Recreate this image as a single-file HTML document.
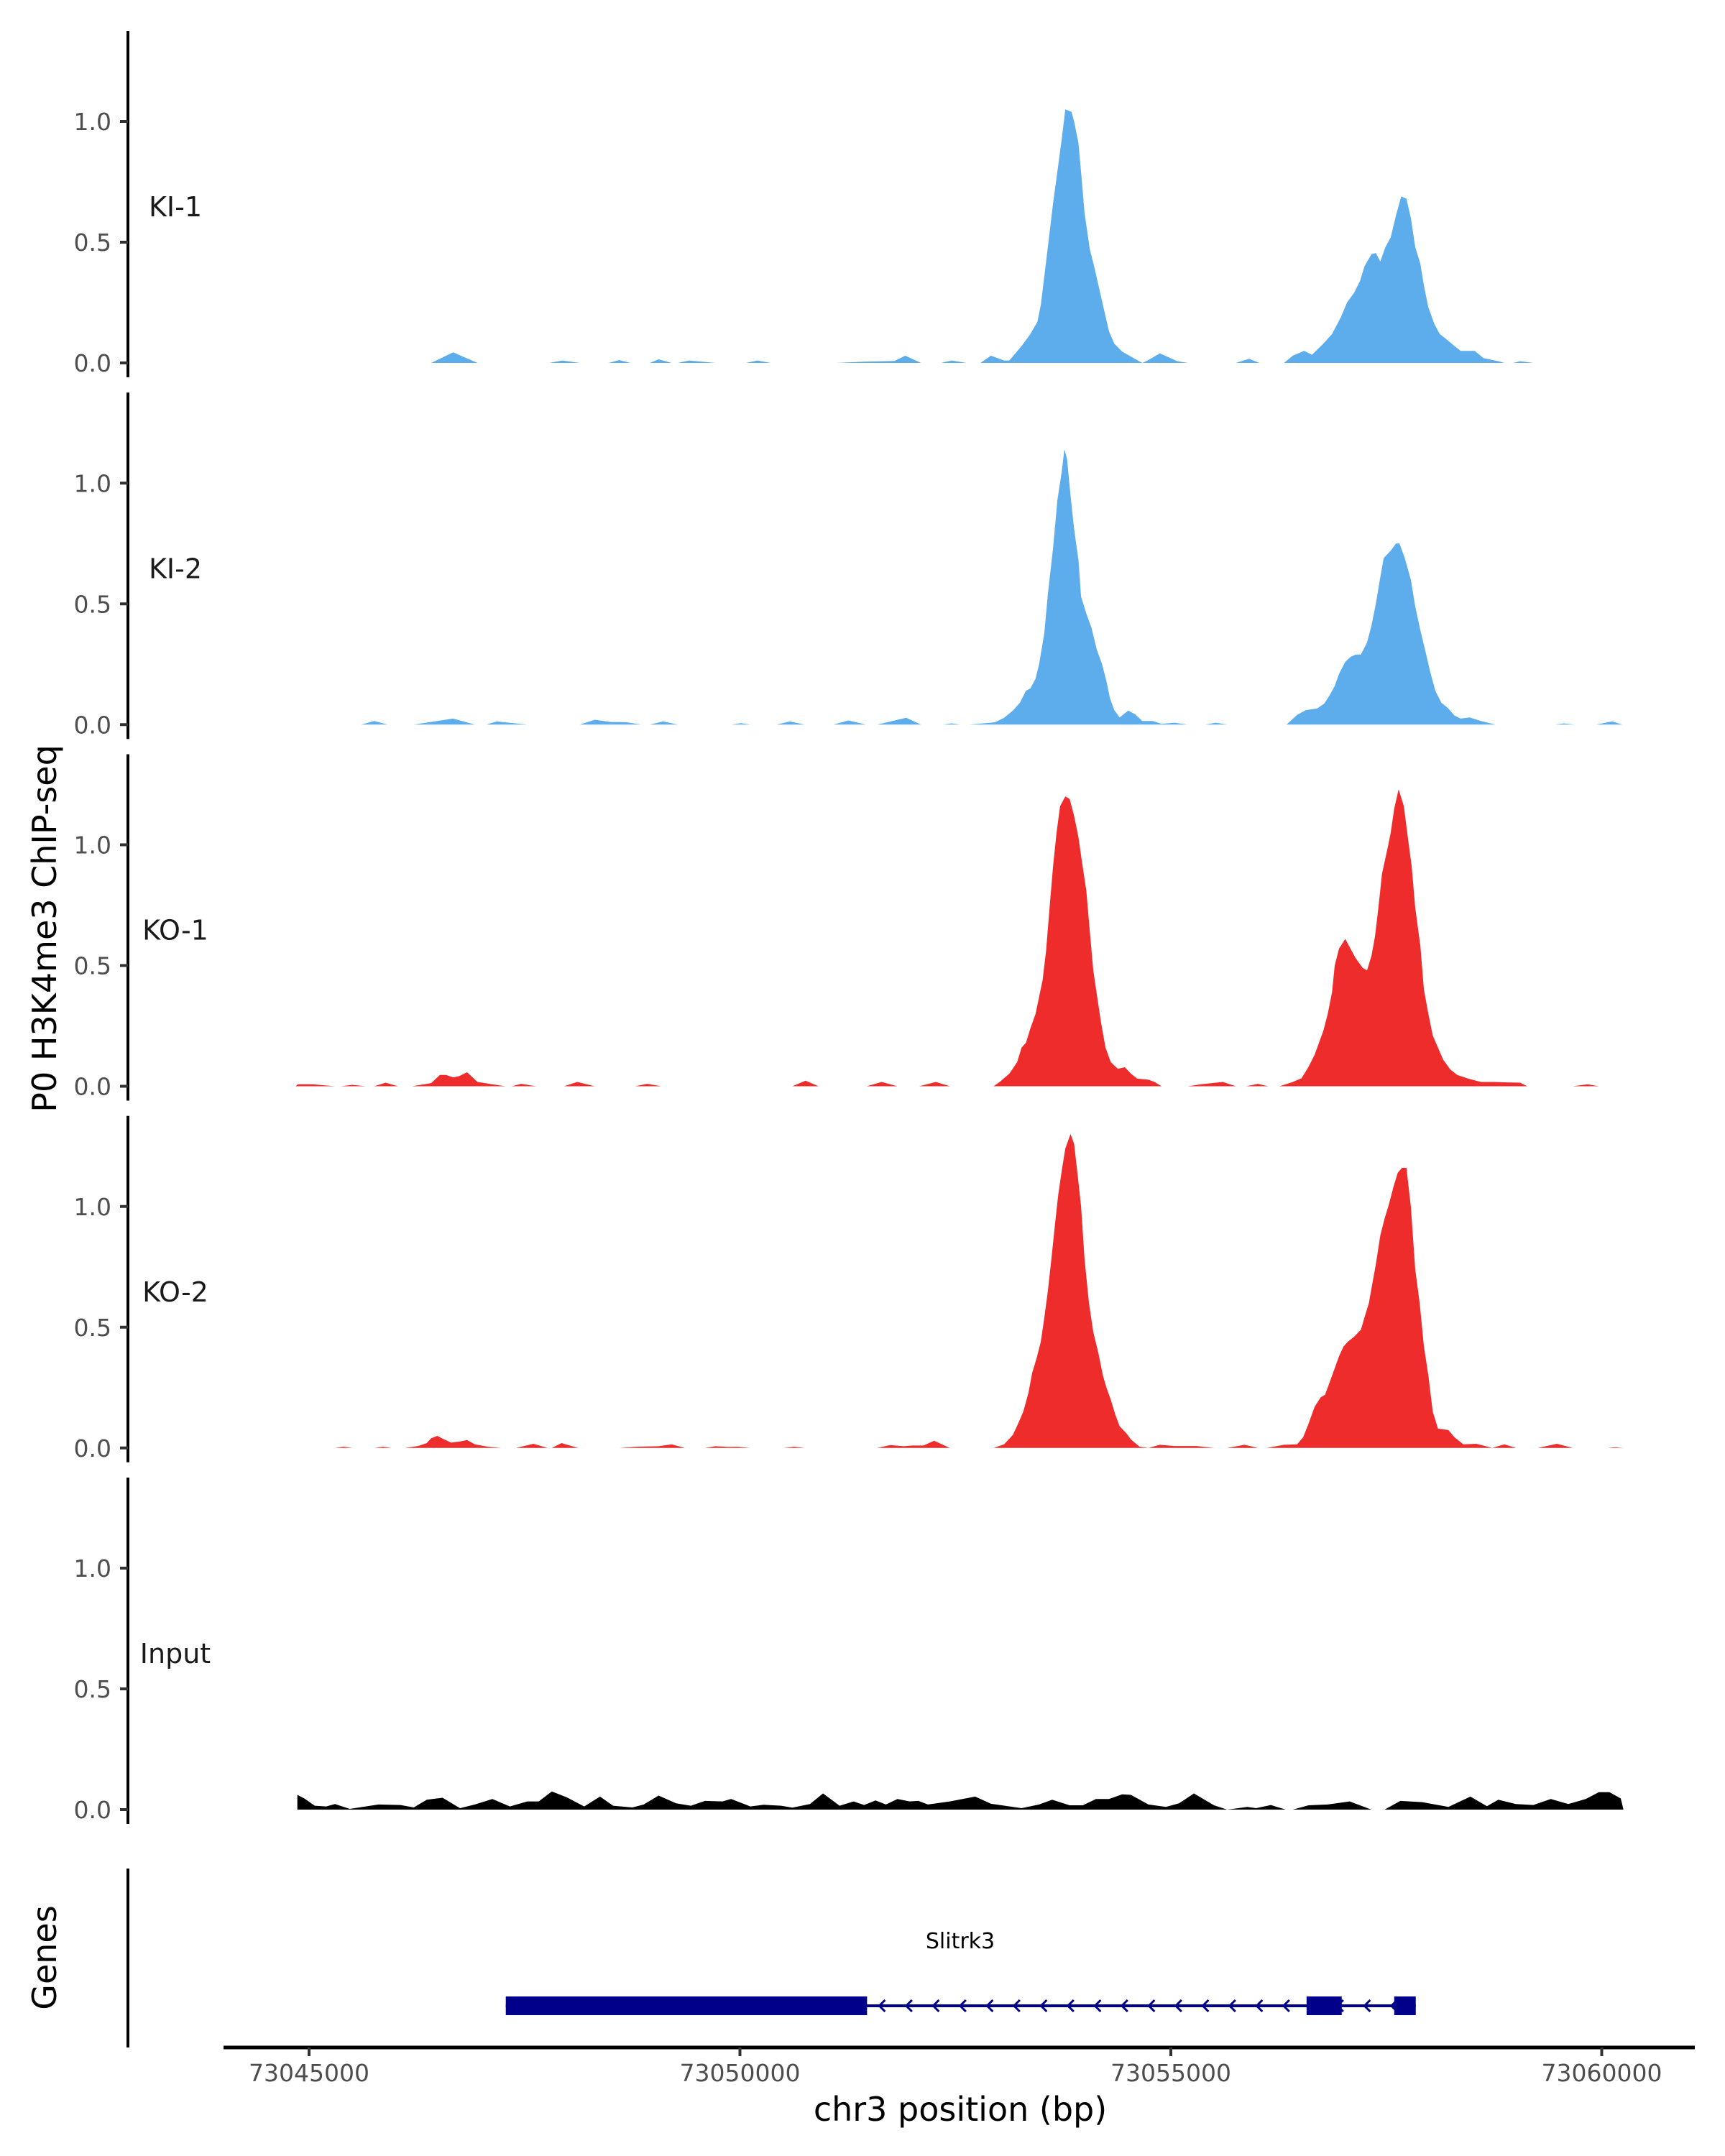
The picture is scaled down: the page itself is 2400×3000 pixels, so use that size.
<!DOCTYPE html>
<html><head><meta charset="utf-8"><style>
html,body{margin:0;padding:0;background:#fff}
svg{display:block}
text{font-family:"DejaVu Sans","Liberation Sans",sans-serif}
</style></head><body>
<svg id="chart" width="2400" height="3000" viewBox="0 0 2400 3000" xmlns="http://www.w3.org/2000/svg"></svg>
<script>
const chromStart = 73040000;
const trackNames = ["KI-1","KI-2","KO-1","KO-2","Input"];
const trackColors = ["#5DADEC","#5DADEC","#EE2C2C","#EE2C2C","#000000"];
const yTicks = [0.0, 0.5, 1.0];
const yTickLabels = ["0.0","0.5","1.0"];
const xTicks = [73045000, 73050000, 73055000, 73060000];
const xTickLabels = ["73045000","73050000","73055000","73060000"];

const ki1Pos = [6417,6671,6955,7787,7939,8142,8477,8599,8731,8954,9056,9208,9279,9411,9716,10071,10203,10355,11116,11441,11796,11918,12101,12334,12456,12629,12791,12913,13065,13126,13268,13370,13451,13491,13532,13573,13633,13694,13735,13776,13847,13877,13928,13958,13999,14060,14110,14161,14212,14283,14344,14435,14567,14669,14740,14872,15075,15197,15755,15907,16029,16313,16415,16547,16638,16770,16871,16973,17044,17125,17196,17247,17328,17379,17430,17490,17551,17612,17673,17734,17785,17836,17896,17937,17988,18059,18120,18191,18292,18363,18526,18627,18800,18871,18972,19054,19206];
const ki1Val = [0,0.044,0,0,0.01,0,0,0.012,0,0,0.015,0,0,0.01,0,0,0.01,0,0,0.005,0.008,0.03,0,0,0.01,0,0,0.03,0.01,0.01,0.07,0.12,0.17,0.24,0.36,0.48,0.66,0.82,0.93,1.05,1.04,1.0,0.91,0.79,0.62,0.47,0.40,0.32,0.24,0.13,0.08,0.047,0.02,0,0.012,0.04,0.007,0,0,0.017,0,0,0.03,0.05,0.034,0.08,0.12,0.19,0.25,0.29,0.34,0.40,0.45,0.455,0.42,0.48,0.52,0.61,0.69,0.68,0.60,0.48,0.41,0.32,0.23,0.16,0.12,0.10,0.07,0.05,0.05,0.02,0.007,0,0,0.007,0];

const ki2Pos = [5605,5757,5909,6214,6671,6924,7056,7178,7533,8142,8315,8498,8680,8853,8954,9107,9279,9898,10010,10122,10426,10578,10751,11086,11258,11461,11593,11928,12101,12355,12456,12558,12659,12913,12964,13065,13167,13248,13319,13370,13430,13471,13532,13573,13633,13684,13735,13765,13796,13836,13877,13928,13958,14019,14080,14141,14202,14253,14293,14344,14405,14506,14588,14669,14791,14892,15044,15197,15400,15521,15653,16343,16465,16567,16699,16780,16841,16902,16952,17024,17084,17145,17206,17277,17328,17379,17430,17470,17551,17612,17653,17714,17785,17836,17896,17957,18008,18069,18140,18211,18292,18363,18465,18597,18769,19460,19561,19683,19936,20119,20241];
const ki2Val = [0,0.015,0,0,0.025,0,0,0.013,0,0,0.02,0.011,0.01,0,0,0.013,0,0,0.006,0,0,0.013,0,0,0.017,0,0,0.028,0,0,0.005,0,0,0.008,0.01,0.028,0.058,0.09,0.14,0.15,0.19,0.25,0.38,0.54,0.73,0.93,1.05,1.14,1.10,0.95,0.81,0.68,0.53,0.46,0.40,0.31,0.25,0.18,0.11,0.06,0.03,0.058,0.042,0.015,0.015,0.003,0.008,0,0,0.008,0,0,0.04,0.06,0.067,0.087,0.12,0.16,0.21,0.26,0.28,0.29,0.29,0.34,0.41,0.50,0.61,0.69,0.72,0.75,0.75,0.69,0.60,0.49,0.39,0.30,0.22,0.14,0.09,0.07,0.037,0.025,0.03,0.015,0,0,0.005,0,0,0.013,0];

const ko1Pos = [4844,4870,5047,5300,5371,5503,5656,5757,5889,6031,6193,6417,6518,6589,6671,6742,6833,6955,7127,7280,7351,7462,7635,7960,8112,8315,8782,8924,9086,10609,10761,10913,11471,11644,11827,12080,12273,12436,12943,13014,13126,13217,13268,13319,13370,13430,13471,13512,13552,13593,13633,13674,13715,13776,13826,13877,13928,13968,14019,14060,14100,14141,14192,14242,14303,14385,14466,14537,14608,14740,14811,14892,15197,15349,15603,15755,15876,16009,16130,16262,16415,16516,16597,16668,16719,16770,16821,16871,16902,16952,17024,17084,17145,17227,17277,17328,17369,17409,17450,17511,17551,17592,17643,17704,17754,17795,17836,17896,17937,17988,18039,18100,18160,18242,18323,18445,18597,18749,18901,19054,19135,19663,19835,19967];
const ko1Val = [0,0.008,0.008,0,0,0.006,0,0,0.015,0,0,0.013,0.047,0.047,0.037,0.042,0.058,0.018,0.008,0,0,0.01,0,0,0.018,0,0,0.01,0,0,0.023,0,0,0.018,0,0,0.018,0,0,0.018,0.052,0.10,0.16,0.18,0.24,0.30,0.37,0.44,0.56,0.74,0.91,1.05,1.16,1.20,1.19,1.12,1.03,0.93,0.81,0.64,0.48,0.38,0.26,0.16,0.10,0.072,0.079,0.052,0.032,0.027,0.018,0,0,0.008,0.018,0,0,0.01,0,0,0.018,0.033,0.08,0.13,0.18,0.23,0.30,0.39,0.50,0.57,0.61,0.57,0.53,0.49,0.48,0.54,0.62,0.74,0.88,0.98,1.05,1.15,1.23,1.16,1.02,0.91,0.74,0.58,0.40,0.30,0.21,0.16,0.11,0.07,0.047,0.032,0.018,0.018,0.016,0.015,0,0,0.008,0];

const ko2Pos = [5300,5402,5503,5757,5859,5960,6112,6265,6366,6417,6488,6569,6650,6752,6833,6924,7077,7229,7401,7604,7767,7817,7929,8122,8599,8802,9056,9208,9360,9594,9716,9868,9969,10122,10507,10629,10751,11593,11746,11898,12000,12131,12253,12436,12943,13065,13167,13227,13288,13349,13390,13441,13491,13532,13573,13613,13654,13694,13735,13776,13836,13877,13928,13958,13999,14050,14100,14161,14212,14253,14303,14354,14405,14486,14537,14638,14740,14872,15044,15298,15501,15653,15856,16009,16110,16313,16465,16536,16597,16668,16739,16790,16851,16902,16952,17003,17054,17125,17206,17247,17298,17338,17379,17430,17480,17531,17582,17633,17683,17734,17785,17836,17887,17937,17988,18039,18100,18221,18292,18394,18546,18729,18871,19003,19257,19480,19663,20069,20150,20252];
const ko2Val = [0,0.005,0,0,0.005,0,0,0.008,0.02,0.04,0.05,0.035,0.022,0.027,0.033,0.015,0.005,0,0,0.017,0,0,0.02,0,0,0.005,0.007,0.015,0,0,0.007,0.004,0.005,0,0,0.005,0,0,0.012,0.007,0.01,0.01,0.03,0,0,0.015,0.054,0.10,0.15,0.23,0.31,0.37,0.44,0.54,0.65,0.78,0.92,1.05,1.15,1.24,1.30,1.26,1.10,1.0,0.78,0.60,0.48,0.39,0.30,0.25,0.20,0.14,0.09,0.06,0.035,0.005,0,0.013,0.008,0.008,0,0,0.013,0,0,0.013,0.015,0.045,0.10,0.17,0.21,0.22,0.28,0.33,0.38,0.42,0.44,0.46,0.49,0.54,0.60,0.68,0.76,0.88,0.95,1.01,1.08,1.14,1.16,1.16,1.0,0.74,0.60,0.42,0.30,0.15,0.08,0.074,0.044,0.015,0.017,0,0.015,0,0,0.017,0,0,0.003,0];

const inputPos = [4864,4864,4945,5067,5199,5300,5473,5656,5808,6062,6214,6366,6549,6752,6924,7127,7330,7533,7665,7817,7990,8193,8376,8528,8751,8883,9056,9259,9431,9594,9797,9898,10122,10274,10477,10609,10812,10964,11157,11319,11441,11573,11695,11827,11969,12070,12182,12436,12730,12913,13268,13471,13623,13826,13979,14131,14283,14435,14537,14740,14943,15095,15268,15501,15653,15704,15887,15988,16161,16333,16415,16598,16821,17075,17328,17480,17663,17917,18221,18475,18668,18800,19003,19206,19409,19612,19815,19967,20089,20221,20252];
const inputVal = [0,0.061,0.046,0.016,0.013,0.023,0.003,0.013,0.021,0.019,0.009,0.041,0.049,0.006,0.021,0.044,0.013,0.034,0.034,0.075,0.051,0.013,0.054,0.016,0.009,0.021,0.058,0.026,0.016,0.036,0.034,0.044,0.013,0.02,0.016,0.008,0.023,0.067,0.016,0.034,0.019,0.038,0.021,0.044,0.034,0.036,0.021,0.034,0.054,0.024,0.006,0.021,0.041,0.018,0.018,0.044,0.044,0.063,0.061,0.021,0.011,0.026,0.067,0.018,0,0.002,0.011,0.006,0.019,0,0,0.018,0.021,0.034,0,0,0.036,0.031,0.011,0.054,0.014,0.041,0.023,0.019,0.044,0.023,0.044,0.072,0.072,0.046,0];

const trackPos = [ki1Pos, ki2Pos, ko1Pos, ko2Pos, inputPos];
const trackVal = [ki1Val, ki2Val, ko1Val, ko2Val, inputVal];

const geneName = "Slitrk3";
const geneStart = 73047283;
const geneEnd = 73057842;
const exonStarts = [73047283, 73056575, 73057592];
const exonEnds = [73051475, 73056983, 73057842];

const NS = "http://www.w3.org/2000/svg";
const svg = document.getElementById("chart");
function mk(tag, attrs, parent){const e=document.createElementNS(NS,tag);for(const k in attrs)e.setAttribute(k,attrs[k]);(parent||svg).appendChild(e);return e;}
function xScale(bp){return 430 + (bp - 73045000) * 599.5 / 5000;}
const unitPx = 336;
function zeroY(i){return 505 + i * 503.25;}
function yScale(i, v){return zeroY(i) - v * unitPx;}

for (let i = 0; i < trackNames.length; i++) {
  const g = mk("g", {});
  
  
  const z = zeroY(i);
  const ax = mk("line", {x1:178, x2:178, y1:z-462, y2:z+20, stroke:"#000", "stroke-width":4}, g);
  
  
  for (let t = 0; t < yTicks.length; t++) {
    const ty = yScale(i, yTicks[t]);
    const tk = mk("line", {x1:167, x2:178, y1:ty, y2:ty, stroke:"#333", "stroke-width":4}, g);
    
    
    const tl = mk("text", {x:155, y:ty+12, "text-anchor":"end", "font-size":33, fill:"#4d4d4d"}, g);
    tl.textContent = yTickLabels[t];
    
    
  }
  const lab = mk("text", {x:244, y:z-204, "text-anchor":"middle", "font-size":38, fill:"#1a1a1a"}, g);
  lab.textContent = trackNames[i];
  
  
  const pos = trackPos[i], val = trackVal[i];
  let d = "M" + xScale(chromStart + pos[0]).toFixed(1) + "," + z;
  for (let k = 0; k < pos.length; k++) d += "L" + xScale(chromStart + pos[k]).toFixed(1) + "," + yScale(i, val[k]).toFixed(1);
  d += "L" + xScale(chromStart + pos[pos.length-1]).toFixed(1) + "," + z + "Z";
  const area = mk("path", {d:d, fill:trackColors[i]}, g);
  
  
}

const yt = mk("text", {x:0, y:0, transform:"translate(78,1292) rotate(-90)", "text-anchor":"middle", "font-size":46, fill:"#000"});
yt.textContent = "P0 H3K4me3 ChIP-seq";



const gg = mk("g", {});


const gax = mk("line", {x1:178, x2:178, y1:2600, y2:2849, stroke:"#000", "stroke-width":4}, gg);


const gt = mk("text", {x:0, y:0, transform:"translate(78,2724) rotate(-90)", "text-anchor":"middle", "font-size":46, fill:"#000"}, gg);
gt.textContent = "Genes";


const gy = 2791;
const intron = mk("line", {x1:xScale(geneStart), x2:xScale(geneEnd), y1:gy, y2:gy, stroke:"#00008B", "stroke-width":4}, gg);


for (let c = xScale(exonEnds[0]) + 20; c < xScale(geneEnd) - 10; c += 37.5) {
  const ch = mk("path", {d:"M"+(c+5)+","+(gy-8)+"L"+(c-3)+","+gy+"L"+(c+5)+","+(gy+8), fill:"none", stroke:"#00008B", "stroke-width":3}, gg);
  
  
}
for (let e = 0; e < exonStarts.length; e++) {
  const r = mk("rect", {x:xScale(exonStarts[e]), y:gy-13, width:xScale(exonEnds[e])-xScale(exonStarts[e]), height:26, fill:"#00008B"}, gg);
  
  
}
const gl = mk("text", {x:1336, y:2711, "text-anchor":"middle", "font-size":30, fill:"#000"}, gg);
gl.textContent = geneName;



const xa = mk("line", {x1:311, x2:2358, y1:2849, y2:2849, stroke:"#000", "stroke-width":5});


for (let t = 0; t < xTicks.length; t++) {
  const tx = xScale(xTicks[t]);
  const tk = mk("line", {x1:tx, x2:tx, y1:2849, y2:2861, stroke:"#333", "stroke-width":4});
  
  
  const tl = mk("text", {x:tx, y:2896, "text-anchor":"middle", "font-size":33, fill:"#4d4d4d"});
  tl.textContent = xTickLabels[t];
  
  
}
const xt = mk("text", {x:1336, y:2951, "text-anchor":"middle", "font-size":46, fill:"#000"});
xt.textContent = "chr3 position (bp)";


</script>
</body></html>
